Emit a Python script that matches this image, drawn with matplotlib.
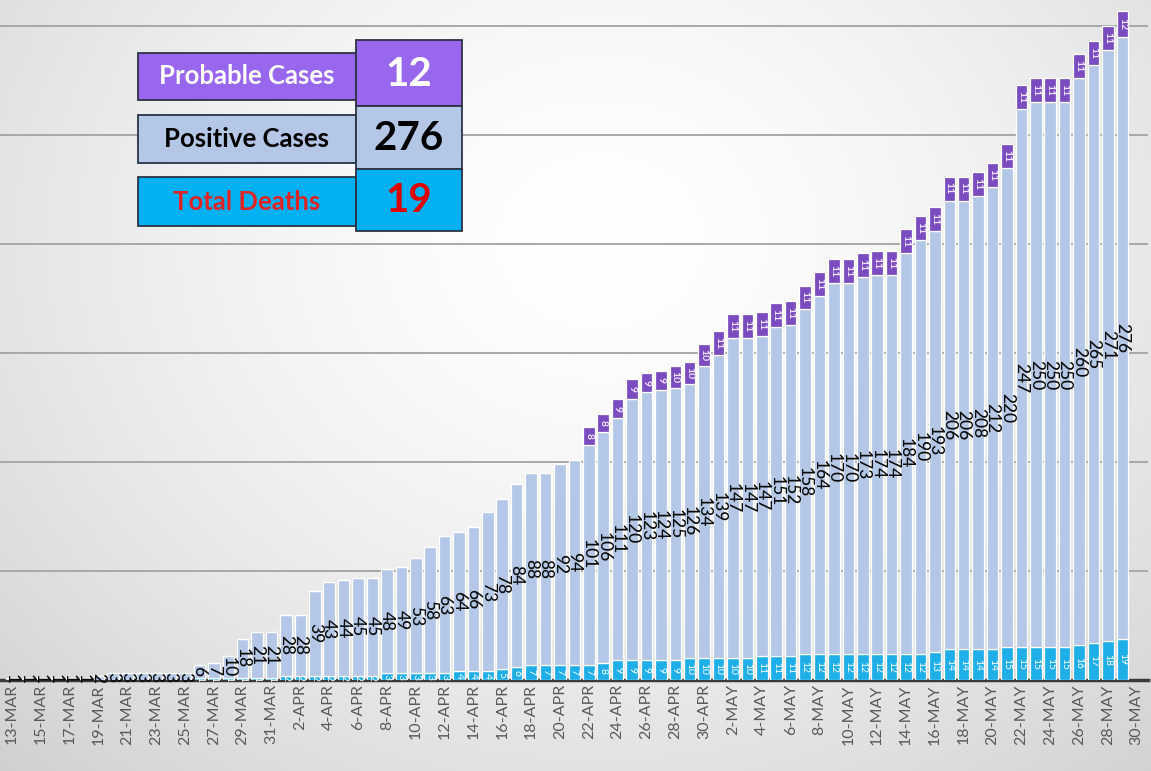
import numpy as np
import pandas as pd
import matplotlib
matplotlib.use("Agg")
import matplotlib.pyplot as plt
from matplotlib.patches import Rectangle

# ---------------- data ----------------
dates = [d.strftime("%-d-%b").upper() for d in pd.date_range("2020-03-13", "2020-05-30")]

positive = [1, 1, 1, 1, 1, 1, 2, 3, 3, 3, 3, 3, 3,
            6, 7, 10, 18, 21, 21,
            28, 28, 39, 43, 44, 45, 45, 48, 49, 53, 58, 63, 64, 66, 73, 78,
            84, 88, 88, 92, 94, 101, 106, 111, 120, 123, 124, 125, 126, 134,
            139, 147, 147, 147, 151, 152, 158, 164, 170, 170, 173, 174, 174,
            184, 190, 193, 206, 206, 208, 212, 220, 247, 250, 250, 250, 260,
            265, 271, 276]

deaths = [0, 0, 0, 0, 0, 0, 0, 0, 0, 0, 0, 0, 0,
          1, 1, 1, 1, 1, 1,
          2, 2, 2, 2, 2, 2, 2, 3, 3, 3, 3, 3, 4, 4, 4, 5, 6,
          7, 7, 7, 7, 7, 8, 9, 9, 9, 9, 9, 10, 10,
          10, 10, 10, 11, 11, 11, 12, 12, 12, 12, 12, 12, 12, 12, 12,
          13, 14, 14, 14, 14, 15, 15, 15, 15, 15, 16, 17, 18, 19]

probable = [0] * 40 + [8, 8, 9, 9, 9, 9, 10, 10, 10] + [11] * 28 + [12]

# ---------------- style ----------------
C_POS = "#b4c7e7"
C_DEA = "#1eaee8"
C_PRO = "#7b4cbf"
FONT = ["Lato", "DejaVu Sans"]
plt.rcParams["font.family"] = FONT

W, H = 1151, 771
fig = plt.figure(figsize=(W / 100, H / 100), dpi=100)

# background radial gradient
bg = fig.add_axes([0, 0, 1, 1], zorder=-10)
yy, xx = np.mgrid[0:H, 0:W]
r = np.sqrt(((xx - 600) / 760.0) ** 2 + ((yy - 240) / 640.0) ** 2)
v = np.clip(1.0 - 0.15 * r ** 1.5, 0.8, 1.0)
bg.imshow(np.dstack([v, v, v]), extent=[0, W, H, 0], aspect="auto")
bg.set_xlim(0, W)
bg.set_ylim(H, 0)
bg.axis("off")

# main axes
base_px = 680
ax = fig.add_axes([0, (H - base_px) / H, 1148 / W, base_px / H])
ax.patch.set_alpha(0)
n = len(positive)
x = np.arange(n)
pos = np.array(positive)
dea = np.array(deaths)
pro = np.array(probable)

ax.bar(x, dea, width=0.8, color=C_DEA, edgecolor="white", linewidth=0.9, zorder=3)
ax.bar(x, pos, bottom=dea, width=0.8, color=C_POS, edgecolor="white", linewidth=0.9, zorder=3)
ax.bar(x, pro, bottom=dea + pos, width=0.8, color=C_PRO, edgecolor="white", linewidth=0.9, zorder=3)

for i in range(n):
    ax.text(x[i], dea[i] + pos[i] / 2, str(pos[i]), rotation=270, ha="center",
            va="center", fontsize=12.5, fontweight="medium", color="#0a0a0a", zorder=5)
    if dea[i] > 0:
        ax.text(x[i], dea[i] / 2, str(dea[i]), rotation=270, ha="center",
                va="center", fontsize=7.5, color="white", zorder=5)
    if pro[i] > 0:
        ax.text(x[i], dea[i] + pos[i] + pro[i] / 2, str(pro[i]), rotation=270,
                ha="center", va="center", fontsize=7.5, fontweight="bold",
                color="#efe6ff", zorder=5)

ax.set_xlim(-0.83, 78.78)
ax.set_ylim(0, 312)
ax.set_yticks([50, 100, 150, 200, 250, 300])
ax.yaxis.grid(True, color="#a8a8a8", linewidth=1.4, zorder=0)
ax.set_axisbelow(True)
ax.tick_params(axis="y", left=False, labelleft=False)
ax.set_xticks(np.arange(0, len(dates), 2))
ax.set_xticklabels(dates[::2], rotation=90, fontsize=11.5, color="#595959")
ax.tick_params(axis="x", length=0, pad=3)
for s in ["left", "right", "top"]:
    ax.spines[s].set_visible(False)
ax.spines["bottom"].set_color("#3a3a3a")
ax.spines["bottom"].set_linewidth(2.5)

# summary boxes (pixel overlay)
ov = fig.add_axes([0, 0, 1, 1], zorder=20)
ov.set_xlim(0, W)
ov.set_ylim(H, 0)
ov.axis("off")
EDGE = "#2b3344"
rows = [
    ("Probable Cases", "white", probable[-1], "white", "#9966ee", (53, 100), (40, 106)),
    ("Positive Cases", "black", positive[-1], "black", C_POS, (115, 163), (106, 169)),
    ("Total Deaths", "#e02424", deaths[-1], "#e00000", "#00b0f0", (177, 226), (169, 231)),
]
for label, lc, val, vc, fc, (l0, l1), (v0, v1) in rows:
    ov.add_patch(Rectangle((138, l0), 218, l1 - l0, facecolor=fc, edgecolor=EDGE, linewidth=1.3))
    ov.add_patch(Rectangle((356, v0), 106, v1 - v0, facecolor=fc, edgecolor=EDGE, linewidth=1.3))
    ov.text(247, (l0 + l1) / 2, label, ha="center", va="center", fontsize=18.5,
            fontweight="bold", color=lc)
    ov.text(409, (v0 + v1) / 2 + 1, str(val), ha="center", va="center", fontsize=29,
            fontweight="bold", color=vc)

fig.savefig("out.png", dpi=100)
